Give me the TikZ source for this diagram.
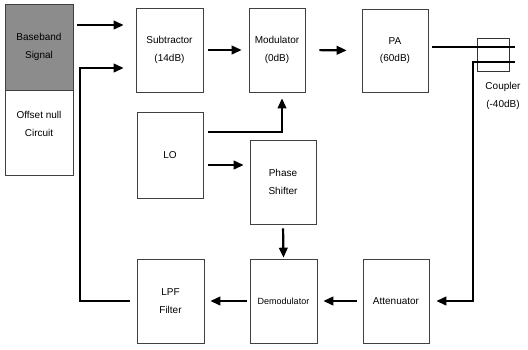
\documentclass[tikz,border=0pt]{standalone}
\usepackage{fontspec}
\setmainfont{Liberation Sans}
\usetikzlibrary{arrows.meta,calc}
\begin{document}
\begin{tikzpicture}[x=1pt,y=-1pt,
  blk/.style={draw=black!75,line width=0.6pt,inner sep=0pt,align=center,
    font=\fontsize{10}{17.5}\selectfont},
  arr/.style={line width=2.2pt,-{Triangle[length=10pt,width=8.5pt]}},
  wire/.style={line width=2.2pt}]
\useasboundingbox (0,0) rectangle (528,349);
% left box
\node[blk,fill=black!45,minimum width=68,minimum height=86] (base) at (39,47) {Baseband\\Signal};
\node[blk,minimum width=68,minimum height=85] (offset) at (39,132.5) {};
\node[align=center,font=\fontsize{10}{17.5}\selectfont] (offtxt) at (39,124) {Offset null\\Circuit};
% blocks
\node[blk,minimum width=67,minimum height=84] (sub) at (169.5,50) {Subtractor\\(14dB)};
\node[blk,minimum width=56,minimum height=84] (mod) at (277,50) {Modulator\\(0dB)};
\node[blk,minimum width=66,minimum height=83] (pa) at (395,50.5) {PA\\(60dB)};
\node[blk,minimum width=66,minimum height=86] (lo) at (170,155) {LO};
\node[blk,minimum width=66,minimum height=84] (ph) at (283,182) {Phase\\Shifter};
\node[blk,minimum width=67,minimum height=84] (dem) at (283.5,301) {\fontsize{9}{12}\selectfont Demodulator};
\node[blk,minimum width=67,minimum height=84] (lpf) at (170.5,301) {LPF\\Filter};
\node[blk,minimum width=66,minimum height=84] (att) at (396,301) {Attenuator};
% coupler
\node[draw=black!80,line width=0.6pt,minimum width=32,minimum height=33,inner sep=0pt] (cpl) at (493,54.5) {};
\node[align=center,font=\fontsize{10}{17.5}\selectfont] (cpltxt) at (503,96) {Coupler\\(-40dB)};
% coordinates
\coordinate (bs) at (77,25);
\coordinate (fb) at (80,68);
\coordinate (lm) at (282,132);
\coordinate (lp) at (208,165);
\coordinate (cl) at (515,47);
\coordinate (c2) at (515,62);
\coordinate (c3) at (473,62);
% connectors
\draw[arr,shorten >=12pt] (bs) -- (bs -| sub.west);
\draw[arr,shorten >=12pt] ([xshift=-7pt]lpf.west) -| (fb) -- (fb -| sub.west);
\draw[arr,shorten <=5pt,shorten >=7pt] (sub.east) -- (mod.west);
\draw[arr,shorten <=14pt,shorten >=15pt] (mod.east) -- (pa.west);
\draw[arr,shorten <=5pt,shorten >=6pt] (lm -| lo.east) -- (lm) -- (lm |- mod.south);
\draw[arr,shorten <=5pt,shorten >=6pt] (lp -| lo.east) -- (lp -| ph.west);
\draw[arr,shorten <=4pt,shorten >=1pt] (ph.south) -- (dem.north);
\draw[arr,shorten <=6pt,shorten >=6pt] (att.west) -- (dem.east);
\draw[arr,shorten <=3pt,shorten >=6pt] (dem.west) -- (lpf.east);
\draw[wire] ([xshift=4pt]pa.east |- cl) -- (cl);
\draw[arr,shorten >=7pt] (c2) -- (c3) |- (att.east);
\end{tikzpicture}
\end{document}
